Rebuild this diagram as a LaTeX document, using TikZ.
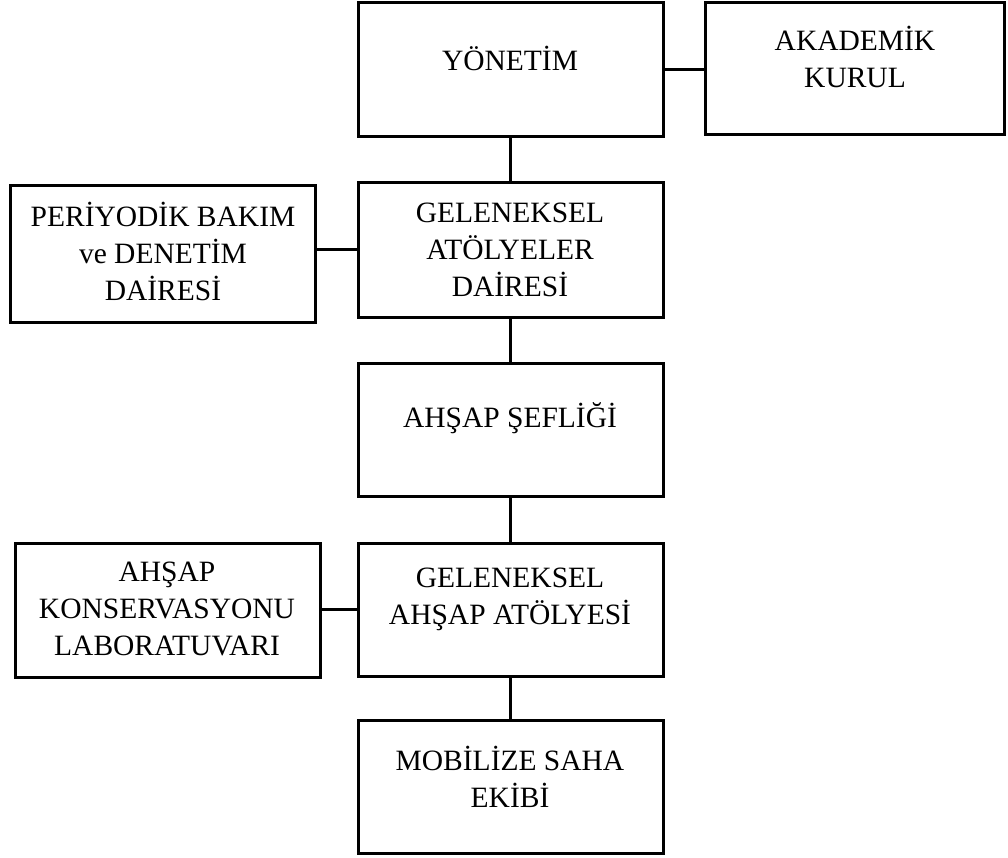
\documentclass[tikz,border=0pt]{standalone}
\usepackage{fontspec}
\setmainfont{Liberation Serif}
\begin{document}
\begin{tikzpicture}[x=1pt,y=-1pt,
  box/.style={draw=black,line width=3pt,rectangle,inner sep=0pt},
  lbl/.style={align=center,inner sep=0pt,font=\fontsize{29.5}{37}\selectfont},
  conn/.style={draw=black,line width=3pt}]
\useasboundingbox (0,0) rectangle (1008,858);
% boxes
\node[box,minimum width=305pt,minimum height=134pt] (yon) at (510.5,70) {};
\node[box,minimum width=299pt,minimum height=132pt] (aka) at (854.5,69) {};
\node[box,minimum width=305pt,minimum height=134pt] (gad) at (510.5,250) {};
\node[box,minimum width=305pt,minimum height=136pt] (per) at (162.5,254) {};
\node[box,minimum width=305pt,minimum height=133pt] (sef) at (510.5,429.5) {};
\node[box,minimum width=305pt,minimum height=133pt] (gaa) at (510.5,609.5) {};
\node[box,minimum width=305pt,minimum height=134pt] (kon) at (167.5,610) {};
\node[box,minimum width=305pt,minimum height=133pt] (mob) at (510.5,786.5) {};
% texts
\node[lbl] (tyon) at (510,58) {YÖNETİM};
\node[lbl] (taka) at (855,57) {AKADEMİK\\KURUL};
\node[lbl] (tgad) at (510,250) {GELENEKSEL\\ATÖLYELER\\DAİRESİ};
\node[lbl] (tper) at (163,251) {PERİYODİK BAKIM\\ve DENETİM\\DAİRESİ};
\node[lbl] (tsef) at (510,418) {AHŞAP ŞEFLİĞİ};
\node[lbl] (tgaa) at (510,599) {GELENEKSEL\\AHŞAP ATÖLYESİ};
\node[lbl] (tkon) at (167,609) {AHŞAP\\KONSERVASYONU\\LABORATUVARI};
\node[lbl] (tmob) at (510,777) {MOBİLİZE SAHA\\EKİBİ};
% connectors
\draw[conn] (yon.east) -- (yon.east -| aka.west);
\draw[conn] (yon.south) -- (gad.north);
\draw[conn] (gad.west) -- (gad.west -| per.east);
\draw[conn] (gad.south) -- (sef.north);
\draw[conn] (sef.south) -- (gaa.north);
\draw[conn] (gaa.west) -- (gaa.west -| kon.east);
\draw[conn] (gaa.south) -- (mob.north);
\end{tikzpicture}
\end{document}
